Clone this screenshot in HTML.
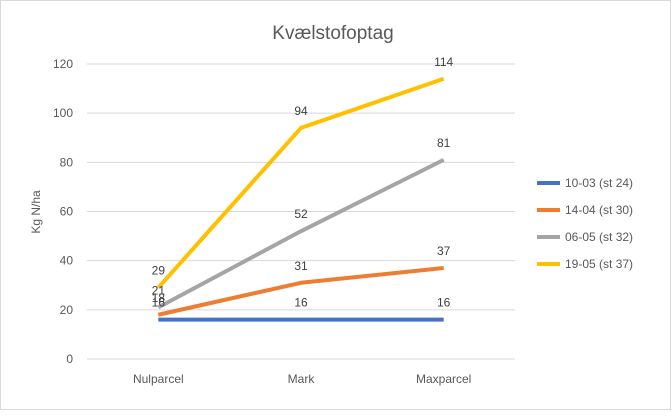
<!DOCTYPE html>
<html><head><meta charset="utf-8"><style>
body{margin:0;background:#fff}
svg text{font-family:"Liberation Sans",sans-serif}
</style></head><body>
<svg id="c" width="672" height="411">
<rect x="0.5" y="0.5" width="670" height="409" fill="#fff" stroke="#d9d9d9"/>
<text x="333" y="39" font-size="19" fill="#595959" text-anchor="middle">Kvælstofoptag</text>
<text transform="translate(40,212) rotate(-90)" font-size="12" fill="#595959" text-anchor="middle">Kg N/ha</text>
<g id="grid"></g><g id="lines"></g><g id="labels"></g><g id="legend"></g>
</svg>
<script>
const categories=["Nulparcel","Mark","Maxparcel"];
const seriesNames=["10-03 (st 24)","14-04 (st 30)","06-05 (st 32)","19-05 (st 37)"];
const s1=[16,16,16];
const s2=[18,31,37];
const s3=[21,52,81];
const s4=[29,94,114];
const yTicks=[0,20,40,60,80,100,120];
const series=[s1,s2,s3,s4];
const colors=["#4472c4","#ed7d31","#a5a5a5","#ffc000"];
const NS="http://www.w3.org/2000/svg";
const x0=87,x1=515,yb=359,yt=64;
const X=i=>x0+(x1-x0)*(i+0.5)/categories.length;
const Y=v=>yb-(v/120)*(yb-yt);
function mk(t,a,p,txt){const e=document.createElementNS(NS,t);for(const k in a)e.setAttribute(k,a[k]);if(txt!=null)e.textContent=txt;document.getElementById(p).appendChild(e);return e;}
yTicks.forEach(v=>{
 const l=mk("line",{x1:x0,x2:x1,y1:Y(v),y2:Y(v),stroke:"#d9d9d9","stroke-width":1},"grid");
 
 
 const t=mk("text",{x:x0-14,y:Y(v)+4,"font-size":12,fill:"#595959","text-anchor":"end"},"grid",v);
 
 
});
categories.forEach((c,i)=>{
 const t=mk("text",{x:X(i),y:383,"font-size":12,fill:"#595959","text-anchor":"middle"},"grid",c);
 
 
});
series.forEach((s,k)=>{
 const p=mk("polyline",{points:s.map((v,i)=>X(i)+","+Y(v)).join(" "),fill:"none",stroke:colors[k],"stroke-width":4,"stroke-linejoin":"round"},"lines");
 
 
 s.forEach((v,i)=>{
  const t=mk("text",{x:X(i),y:Y(v)-13,"font-size":12,fill:"#404040","text-anchor":"middle"},"labels",v);
  
  
 });
 const ly=183+k*27;
 const ll=mk("line",{x1:537,x2:560,y1:ly,y2:ly,stroke:colors[k],"stroke-width":4},"legend");
 
 
 const lt=mk("text",{x:565,y:ly+4,"font-size":12,fill:"#595959"},"legend",seriesNames[k]);
 
 
});
</script>
</body></html>
